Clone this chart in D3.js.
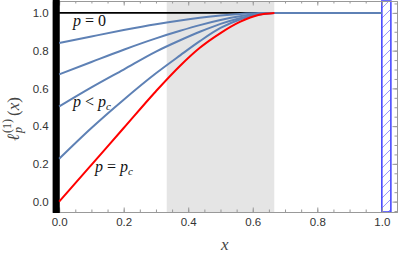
<!DOCTYPE html>
<html>
<head>
<meta charset="utf-8">
<script src="https://cdn.jsdelivr.net/npm/d3@7"></script>
<style>
  body { margin: 0; background: #fff; }
  svg { display: block; }
  .sans { font-family: "Liberation Sans", Arimo, Arial, sans-serif; }
  .serif { font-family: "Liberation Serif", "DejaVu Serif", "Times New Roman", serif; }
</style>
</head>
<body>
<script>
// sample positions along x
var xs = [0, 0.1, 0.2, 0.3, 0.375, 0.436, 0.5, 0.56, 0.62, 0.667, 1.0];

// blue curves, p between 0 and p_c (top to bottom)
var blue1 = [0.84, 0.875, 0.909, 0.94, 0.96, 0.974, 0.986, 0.994, 0.999, 1, 1];
var blue2 = [0.674, 0.74, 0.805, 0.865, 0.905, 0.935, 0.962, 0.982, 0.995, 1, 1];
var blue3 = [0.504, 0.605, 0.70, 0.795, 0.855, 0.90, 0.942, 0.972, 0.992, 1, 1];
var blue4 = [0.227, 0.39, 0.54, 0.68, 0.775, 0.85, 0.92, 0.965, 0.992, 1, 1];
// red curve, p = p_c (stops at 2/3)
var red = [0, 0.195, 0.39, 0.585, 0.72, 0.815, 0.893, 0.952, 0.99, 1];
// p = 0 line
var blackX = [0, 0.667], blackY = [1, 1];

// shaded regions
var grayBand = [1 / 3, 2 / 3];
var wall = [-0.02, 0];
var hatchBand = [1.0, 1.028];

var xTicks = [0, 0.2, 0.4, 0.6, 0.8, 1.0];
var yTicks = [0, 0.2, 0.4, 0.6, 0.8, 1.0];

var W = 399, H = 261;
var pLeft = 52.7, pRight = 397, pTop = 1, pBottom = 212;

var x = d3.scaleLinear().domain([-0.02, 1.047]).range([pLeft, pRight]);
var y = d3.scaleLinear().domain([-0.055, 1.063]).range([pBottom, pTop]);

var svg = d3.select("body").append("svg")
  .attr("width", W)
  .attr("height", H);

var defs = svg.append("defs");
var pat = defs.append("pattern")
  .attr("id", "hatch")
  .attr("patternUnits", "userSpaceOnUse")
  .attr("width", 10)
  .attr("height", 10);
pat.append("path")
  .attr("d", "M-1,11 L11,-1 M-6,6 L6,-6 M4,16 L16,4")
  .attr("stroke", "#8a8aff")
  .attr("stroke-width", 0.9);

// gray band
svg.append("rect")
  .attr("x", x(grayBand[0]))
  .attr("y", pTop)
  .attr("width", x(grayBand[1]) - x(grayBand[0]))
  .attr("height", pBottom - pTop)
  .attr("fill", "#e5e5e5");

// hatched band at x = 1
svg.append("rect")
  .attr("x", x(hatchBand[0]))
  .attr("y", pTop)
  .attr("width", x(hatchBand[1]) - x(hatchBand[0]))
  .attr("height", pBottom - pTop)
  .attr("fill", "url(#hatch)")
  .attr("stroke", "#4a4aff")
  .attr("stroke-width", 1.6);

// axes (frame with inward ticks)
function styleAxis(g) {
  g.attr("font-family", null);
  g.selectAll("path").attr("stroke", "#999");
  g.selectAll("line").attr("stroke", "#999");
  g.selectAll("text")
    .attr("class", "sans")
    .attr("fill", "#333")
    .style("font-size", "11.5px");
}
var minor = d3.range(0, 1.0001, 0.05);
var minorY = d3.range(-0.05, 1.0501, 0.05);
var fmt = d3.format(".1f");

svg.append("g").attr("transform", "translate(0," + pBottom + ")")
  .call(d3.axisBottom(x).tickValues(minor).tickSize(-2.5).tickFormat("").tickSizeOuter(0))
  .call(styleAxis);
svg.append("g").attr("transform", "translate(0," + pBottom + ")")
  .call(d3.axisBottom(x).tickValues(xTicks).tickSize(-4.5).tickPadding(6).tickFormat(fmt).tickSizeOuter(0))
  .call(styleAxis);
svg.append("g").attr("transform", "translate(0," + pTop + ")")
  .call(d3.axisTop(x).tickValues(minor).tickSize(-2.5).tickFormat("").tickSizeOuter(0))
  .call(styleAxis);
svg.append("g").attr("transform", "translate(0," + pTop + ")")
  .call(d3.axisTop(x).tickValues(xTicks).tickSize(-4.5).tickFormat("").tickSizeOuter(0))
  .call(styleAxis);
svg.append("g").attr("transform", "translate(" + pRight + ",0)")
  .call(d3.axisRight(y).tickValues(minorY).tickSize(-2.5).tickFormat("").tickSizeOuter(0))
  .call(styleAxis);
svg.append("g").attr("transform", "translate(" + pRight + ",0)")
  .call(d3.axisRight(y).tickValues(yTicks).tickSize(-4.5).tickFormat("").tickSizeOuter(0))
  .call(styleAxis);
svg.append("g").attr("transform", "translate(" + pLeft + ",0)")
  .call(d3.axisLeft(y).tickValues(yTicks).tickSize(0).tickPadding(4).tickFormat(fmt).tickSizeOuter(0))
  .call(styleAxis);

// black wall at x = 0
svg.append("rect")
  .attr("x", x(wall[0]))
  .attr("y", 0)
  .attr("width", x(wall[1]) - x(wall[0]) + 0.6)
  .attr("height", pBottom + 1)
  .attr("fill", "#000");

var line = d3.line()
  .x(function(d) { return x(d[0]); })
  .y(function(d) { return y(d[1]); })
  .curve(d3.curveMonotoneX);

// p = 0
svg.append("path")
  .attr("d", line(d3.zip(blackX, blackY)))
  .attr("fill", "none")
  .attr("stroke", "#000")
  .attr("stroke-width", 1.6);

[blue1, blue2, blue3, blue4].forEach(function(s) {
  svg.append("path")
    .attr("d", line(d3.zip(xs, s)))
    .attr("fill", "none")
    .attr("stroke", "#5e81b5")
    .attr("stroke-width", 2);
});

svg.append("path")
  .attr("d", line(d3.zip(xs.slice(0, red.length), red)))
  .attr("fill", "none")
  .attr("stroke", "#ff0000")
  .attr("stroke-width", 2);

// curve labels
function mathLabel(px, py, parts) {
  var t = svg.append("text")
    .attr("class", "serif")
    .attr("x", px).attr("y", py)
    .style("font-size", "16px")
    .attr("fill", "#111");
  parts.forEach(function(p) {
    var s = t.append("tspan").text(p.t);
    if (p.i) s.style("font-style", "italic");
    if (p.sub) s.style("font-size", "11px").attr("dy", 3);
  });
  return t;
}
mathLabel(73, 25.5, [{t: "p", i: 1}, {t: " = 0"}]);
mathLabel(73, 107, [{t: "p", i: 1}, {t: " < "}, {t: "p", i: 1}, {t: "c", i: 1, sub: 1}]);
mathLabel(95, 172, [{t: "p", i: 1}, {t: " = "}, {t: "p", i: 1}, {t: "c", i: 1, sub: 1}]);

// x axis label
svg.append("text")
  .attr("class", "serif")
  .attr("x", (pLeft + pRight) / 2)
  .attr("y", 250)
  .attr("text-anchor", "middle")
  .style("font-style", "italic")
  .style("font-size", "17px")
  .attr("fill", "#444")
  .text("x");

// y axis label: l_p^(1)(x)
var yl = svg.append("g")
  .attr("transform", "translate(12,111) rotate(-90)")
  .attr("fill", "#444");
yl.append("text").attr("class", "serif").attr("x", -30).attr("y", 6.5)
  .style("font-size", "17px").style("font-style", "italic").text("ℓ");
yl.append("text").attr("class", "serif").attr("x", -22).attr("y", -1.5)
  .style("font-size", "12px").text("(1)");
yl.append("text").attr("class", "serif").attr("x", -22).attr("y", 10)
  .style("font-size", "12px").style("font-style", "italic").text("p");
yl.append("text").attr("class", "serif").attr("x", -5).attr("y", 6.5)
  .style("font-size", "17px").selectAll("tspan")
  .data([["(", 0], ["x", 1], [")", 0]]).enter().append("tspan")
  .style("font-style", function(d) { return d[1] ? "italic" : null; })
  .text(function(d) { return d[0]; });
</script>
</body>
</html>
